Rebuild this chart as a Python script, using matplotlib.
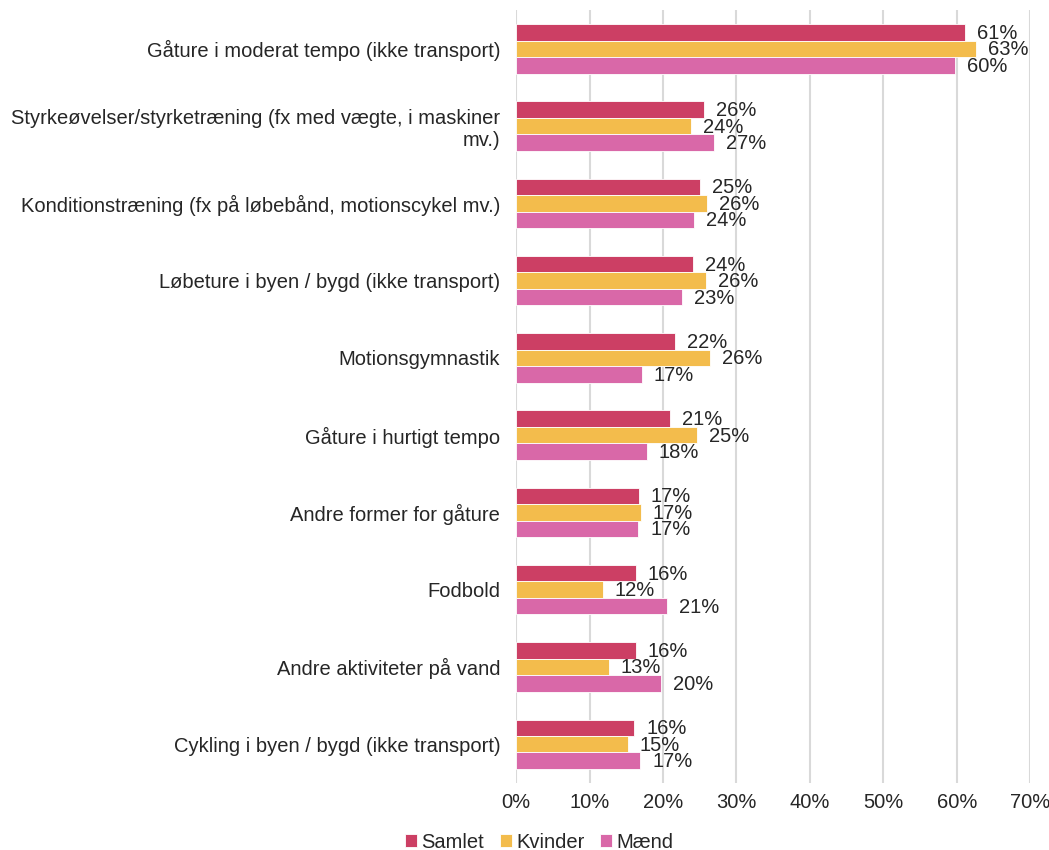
import matplotlib
matplotlib.use("Agg")
import matplotlib.pyplot as plt
import numpy as np

plt.rcParams['font.family'] = ['Liberation Sans', 'DejaVu Sans']

categories = [
    "Gåture i moderat tempo (ikke transport)",
    "Styrkeøvelser/styrketræning (fx med vægte, i maskiner\nmv.)",
    "Konditionstræning (fx på løbebånd, motionscykel mv.)",
    "Løbeture i byen / bygd (ikke transport)",
    "Motionsgymnastik",
    "Gåture i hurtigt tempo",
    "Andre former for gåture",
    "Fodbold",
    "Andre aktiviteter på vand",
    "Cykling i byen / bygd (ikke transport)",
]
series_names = ["Samlet", "Kvinder", "Mænd"]
samlet = [61.2, 25.6, 25.0, 24.1, 21.6, 21.0, 16.7, 16.3, 16.3, 16.1]
kvinder = [62.6, 23.8, 26.0, 25.9, 26.4, 24.7, 17.0, 11.8, 12.6, 15.2]
maend = [59.8, 26.9, 24.2, 22.6, 17.1, 17.8, 16.6, 20.6, 19.7, 16.9]
xticks = [0, 10, 20, 30, 40, 50, 60, 70]

colors = ["#CC3F64", "#F3BC4C", "#D968A8"]
FS = 14.5

fig = plt.figure(figsize=(10.49, 8.5), dpi=100)
ax = fig.add_axes([0.492, 0.079, 0.490, 0.909])

n = len(categories)
y = np.arange(n)
h = 0.213
data = [samlet, kvinder, maend]
for i, (vals, col, name) in enumerate(zip(data, colors, series_names)):
    pos = y + (i - 1) * h
    ax.barh(pos, vals, height=h, color=col, label=name,
            edgecolor="white", linewidth=0.6, zorder=3)
    for p, v in zip(pos, vals):
        ax.annotate(f"{round(v)}%", xy=(v, p), xytext=(12, -1),
                    textcoords="offset pixels",
                    ha="left", va="center", fontsize=FS, color="#262626",
                    zorder=4)

ax.set_ylim(n - 0.5, -0.5)
ax.set_xlim(0, 70)
ax.set_yticks(y)
ax.set_yticklabels(categories, fontsize=FS, color="#262626", ha="right")
ax.set_xticks(xticks)
ax.set_xticklabels([f"{t}%" for t in xticks], fontsize=FS, color="#262626")
ax.tick_params(axis="both", length=0)
ax.tick_params(axis="y", pad=11.5)
ax.tick_params(axis="x", pad=7)
for s in ax.spines.values():
    s.set_visible(False)
ax.grid(axis="x", color="#D9D9D9", linewidth=1.5, zorder=0)
ax.set_axisbelow(True)

handles, labels = ax.get_legend_handles_labels()
fig.legend(handles, labels, loc="center", bbox_to_anchor=(0.514, 0.009),
           ncol=3, frameon=False, fontsize=FS, handlelength=0.6,
           handleheight=0.6, handletextpad=0.2, columnspacing=0.8,
           labelcolor="#262626")

fig.savefig("out.png", dpi=100)
